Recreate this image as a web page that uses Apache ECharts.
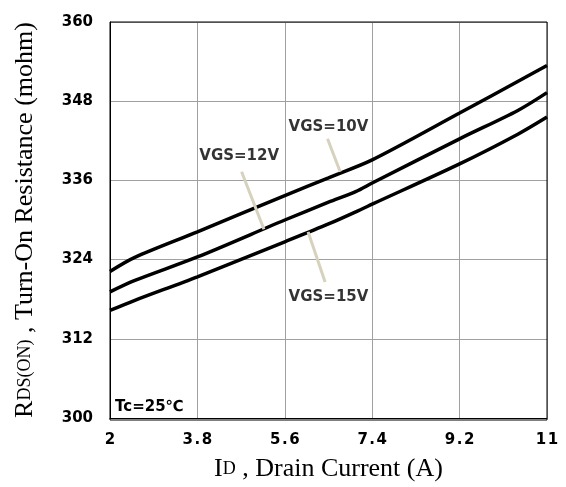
<!DOCTYPE html>
<html>
<head>
<meta charset="utf-8">
<script src="https://cdn.jsdelivr.net/npm/echarts@6/dist/echarts.min.js"></script>
<style>
  html, body { margin: 0; padding: 0; background: #fff; }
  #chart { width: 566px; height: 487px; }
</style>
</head>
<body>
<div id="chart"></div>
<script>
// drain current (A) vs on-resistance (mohm)
const vgs10 = [[2, 322.2], [2.5, 324.3], [3.8, 328.2], [5.6, 333.7], [6.5, 336.4], [7.4, 339.1], [9.2, 346.2], [10.5, 351.4], [11, 353.4]]
const vgs12 = [[2, 319.1], [2.5, 320.8], [3.8, 324.4], [5.6, 330.0], [6.5, 332.7], [7.06, 334.3], [7.4, 335.6], [9.2, 342.3], [10.4, 346.6], [11, 349.3]]
const vgs15 = [[2, 316.3], [2.5, 317.8], [3.8, 321.4], [5.6, 326.7], [6.5, 329.4], [7.2, 331.7], [7.4, 332.4], [9.2, 338.5], [10.4, 343.0], [11, 345.6]]

// label leaders [from, to] in data coords
const leaders = [
  [[6.48, 342.3], [6.74, 337.3]],
  [[4.71, 337.3], [5.17, 328.6]],
  [[6.08, 328.2], [6.43, 320.6]]
]
const labels = [
  { text: 'VGS=10V', at: [6.5, 344.1] },
  { text: 'VGS=12V', at: [4.66, 339.7] },
  { text: 'VGS=15V', at: [6.5, 318.3] }
]

const chart = echarts.init(document.getElementById('chart'))

const boldFont = 'DejaVu Sans, Arial'
const serif = 'Liberation Serif, Times New Roman'

const curve = (name, data) => ({
  name, type: 'line', data, smooth: 0.3, showSymbol: false, z: 3,
  lineStyle: { color: '#000', width: 3.5 }
})

const series = [
  curve('VGS=10V', vgs10),
  curve('VGS=12V', vgs12),
  curve('VGS=15V', vgs15),
  ...leaders.map(l => ({
    type: 'line', data: l, showSymbol: false, silent: true, z: 4,
    lineStyle: { color: '#d6d2bd', width: 3 }
  })),
  {
    type: 'scatter', symbolSize: 0, silent: true, z: 5,
    data: labels.map(l => ({ value: l.at, name: l.text })),
    label: {
      show: true, position: 'inside', formatter: p => p.name,
      fontFamily: boldFont, fontWeight: 'bold', fontSize: 15, color: '#000'
    }
  }
]

const titleRich = {
  main: { fontFamily: serif, fontSize: 26, color: '#000' },
  sub: { fontFamily: serif, fontSize: 18, color: '#000' }
}

chart.setOption({
  backgroundColor: '#fff',
  animation: false,
  grid: { left: 110, right: 19, top: 22, bottom: 67 },
  xAxis: {
    type: 'value', min: 2, max: 11, interval: 1.8,
    name: '{main|I}{sub|D}{main| , Drain Current (A)}',
    nameLocation: 'middle', nameGap: 38,
    nameTextStyle: { rich: titleRich },
    axisLine: { lineStyle: { color: '#000', width: 1 } },
    axisTick: { show: false },
    axisLabel: {
      margin: 15, color: '#000', fontFamily: boldFont, fontWeight: 'bold', fontSize: 15,
      formatter: v => String(+v.toFixed(1)).split('').join('\u200a')
    },
    splitLine: { show: true, lineStyle: { color: '#a0a0a0', width: 1 } }
  },
  yAxis: {
    type: 'value', min: 300, max: 360, interval: 12,
    name: '{main|R}{sub|DS(ON)}{main| , Turn-On Resistance (mohm)}',
    nameLocation: 'middle', nameGap: 72, nameRotate: 90,
    nameTextStyle: { rich: titleRich },
    axisLine: { show: true, lineStyle: { color: '#000', width: 1 } },
    axisTick: { show: false },
    axisLabel: {
      margin: 17, color: '#000', fontFamily: boldFont, fontWeight: 'bold', fontSize: 15
    },
    splitLine: { show: true, lineStyle: { color: '#a0a0a0', width: 1 } }
  },
  graphic: [
    { type: 'rect', shape: { x: 110, y: 22, width: 437, height: 398 }, style: { fill: 'none', stroke: '#000', lineWidth: 1 }, z: 10, silent: true },
    { type: 'text', left: 115, top: 400, style: { text: 'Tc=25℃', font: 'bold 15px DejaVu Sans, Arial', fill: '#000' }, z: 10 }
  ],
  series
})
</script>
</body>
</html>
